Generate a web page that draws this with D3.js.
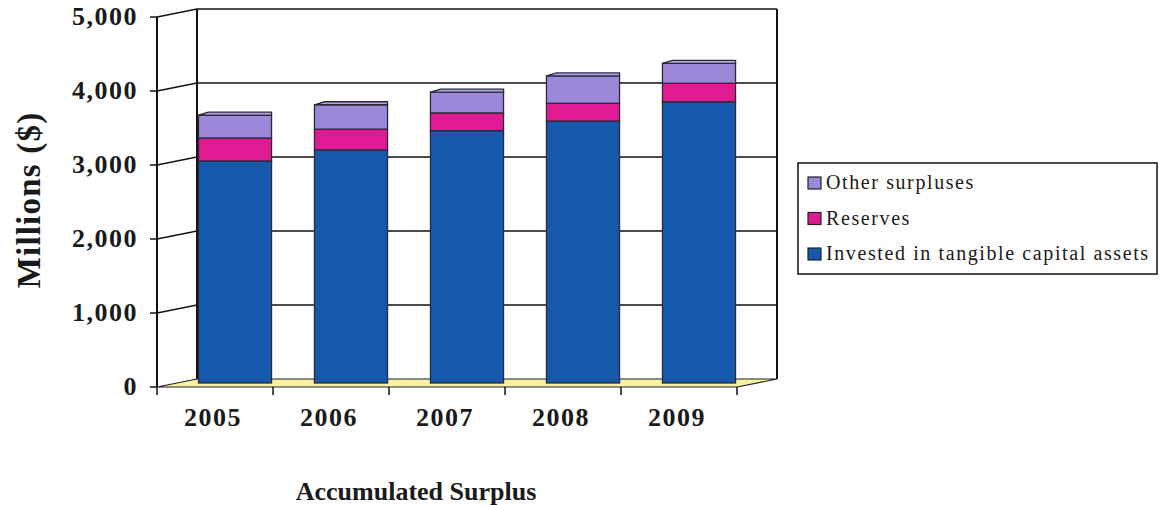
<!DOCTYPE html>
<html>
<head>
<meta charset="utf-8">
<script src="https://cdn.jsdelivr.net/npm/d3@7"></script>
<style>
  body { margin: 0; background: #fff; }
  text { font-family: "Liberation Serif", "Times New Roman", serif; fill: #1a1a1a; }
</style>
</head>
<body>
<div id="chart"></div>
<script>
/* DATA */
const years = ["2005", "2006", "2007", "2008", "2009"];
const invested = [3000, 3150, 3410, 3540, 3800];
const reserves = [310, 280, 240, 240, 250];
const other = [310, 330, 280, 370, 270];
const yTicks = [0, 1000, 2000, 3000, 4000, 5000];
const seriesNames = ["Invested in tangible capital assets", "Reserves", "Other surpluses"];
const seriesColors = ["#1658aa", "#e01a93", "#9c88d8"];

/* LAYOUT */
const width = 1160, height = 505;
const depthX = 40, depthY = -8; // 3d offset of back wall

const svg = d3.select("#chart").append("svg")
  .attr("width", width)
  .attr("height", height);

const x = d3.scaleBand()
  .domain(years)
  .range([157, 737])
  .paddingInner(0.37)
  .paddingOuter(0.185);

const y = d3.scaleLinear()
  .domain([0, 5000])
  .range([387, 17]);

// stack the series
const rows = years.map((yr, i) => ({ year: yr, invested: invested[i], reserves: reserves[i], other: other[i] }));
const stack = d3.stack().keys(["invested", "reserves", "other"])(rows);

// back wall gridlines + diagonals to front axis
const grid = svg.append("g");
yTicks.forEach(t => {
  if (t === 0) return;
  grid.append("line")
    .attr("x1", 157).attr("y1", y(t))
    .attr("x2", 157 + depthX).attr("y2", y(t) + depthY)
    .attr("stroke", "#111").attr("stroke-width", 1.3);
  grid.append("line")
    .attr("x1", 157 + depthX).attr("y1", y(t) + depthY)
    .attr("x2", 737 + depthX).attr("y2", y(t) + depthY)
    .attr("stroke", "#111").attr("stroke-width", 1.3);
});
// back wall verticals
grid.append("line")
  .attr("x1", 157 + depthX).attr("y1", y(5000) + depthY)
  .attr("x2", 157 + depthX).attr("y2", y(0) + depthY)
  .attr("stroke", "#111").attr("stroke-width", 2);
grid.append("line")
  .attr("x1", 737 + depthX).attr("y1", y(5000) + depthY)
  .attr("x2", 737 + depthX).attr("y2", y(0) + depthY)
  .attr("stroke", "#111").attr("stroke-width", 2);

// floor
svg.append("polygon")
  .attr("points", [
    [157, y(0)], [157 + depthX, y(0) + depthY],
    [737 + depthX, y(0) + depthY], [737, y(0)]
  ].map(p => p.join(",")).join(" "))
  .attr("fill", "#f8f1a6")
  .attr("stroke", "#222")
  .attr("stroke-width", 1.2);

// bars, sitting at half depth
const bx = depthX / 2, by = depthY / 2;
const bars = svg.append("g");
stack.forEach((layer, li) => {
  bars.selectAll(null)
    .data(layer)
    .join("rect")
    .attr("x", d => x(d.data.year) + bx)
    .attr("y", d => y(d[1]) + by)
    .attr("width", x.bandwidth())
    .attr("height", d => y(d[0]) - y(d[1]))
    .attr("fill", seriesColors[li])
    .attr("stroke", "#2a2a3a")
    .attr("stroke-width", 1.3);
});
// caps on top
const topLayer = stack[stack.length - 1];
bars.selectAll(null)
  .data(topLayer)
  .join("polygon")
  .attr("points", d => {
    const x0 = x(d.data.year) + bx, x1 = x0 + x.bandwidth();
    const yt = y(d[1]) + by;
    return [[x0, yt], [x0 + 10, yt - 3], [x1, yt - 3], [x1, yt]].map(p => p.join(",")).join(" ");
  })
  .attr("fill", "#b3a6e3")
  .attr("stroke", "#2a2a3a")
  .attr("stroke-width", 1.3);

// front axes
const yAxis = svg.append("g");
yAxis.append("line")
  .attr("x1", 157).attr("y1", y(5000))
  .attr("x2", 157).attr("y2", y(0))
  .attr("stroke", "#111").attr("stroke-width", 2);
yAxis.selectAll("line.tick")
  .data(yTicks)
  .join("line")
  .attr("class", "tick")
  .attr("x1", 150).attr("x2", 157)
  .attr("y1", d => y(d)).attr("y2", d => y(d))
  .attr("stroke", "#111").attr("stroke-width", 1.5);
yAxis.selectAll("text")
  .data(yTicks)
  .join("text")
  .attr("x", 138)
  .attr("y", d => y(d) + 8)
  .attr("text-anchor", "end")
  .attr("font-size", 26)
  .attr("font-weight", "bold")
  .attr("letter-spacing", 1.5)
  .text(d => d3.format(",")(d));

const xAxis = svg.append("g");
const bounds = [157].concat(years.map(yr => x(yr) + x.bandwidth() + x.step() * x.paddingInner() / 2));
xAxis.selectAll("line")
  .data(bounds)
  .join("line")
  .attr("x1", d => d).attr("x2", d => d)
  .attr("y1", y(0)).attr("y2", y(0) + 8)
  .attr("stroke", "#111").attr("stroke-width", 1.5);
xAxis.selectAll("text")
  .data(years)
  .join("text")
  .attr("x", d => x(d) + x.bandwidth() / 2 - 2)
  .attr("y", 426)
  .attr("text-anchor", "middle")
  .attr("font-size", 26)
  .attr("font-weight", "bold")
  .attr("letter-spacing", 1.5)
  .text(d => d);

// axis titles
svg.append("text")
  .attr("transform", "translate(40,200) rotate(-90)")
  .attr("text-anchor", "middle")
  .attr("font-size", 33)
  .attr("font-weight", "bold")
  .attr("letter-spacing", 1.2)
  .text("Millions ($)");

svg.append("text")
  .attr("x", 416)
  .attr("y", 500)
  .attr("text-anchor", "middle")
  .attr("font-size", 26)
  .attr("font-weight", "bold")
  .text("Accumulated Surplus");

// legend
const legend = svg.append("g");
legend.append("rect")
  .attr("x", 798).attr("y", 163)
  .attr("width", 359).attr("height", 111)
  .attr("fill", "#fff")
  .attr("stroke", "#111").attr("stroke-width", 1.5);
const legendOrder = [2, 1, 0];
legendOrder.forEach((si, i) => {
  const ly = 189 + i * 35.5;
  legend.append("rect")
    .attr("x", 808).attr("y", ly - 12)
    .attr("width", 13).attr("height", 12)
    .attr("fill", seriesColors[si])
    .attr("stroke", "#222").attr("stroke-width", 1.2);
  legend.append("text")
    .attr("x", 826).attr("y", ly)
    .attr("font-size", 20)
    .attr("letter-spacing", 1.6)
    .text(seriesNames[si]);
});
</script>
</body>
</html>
